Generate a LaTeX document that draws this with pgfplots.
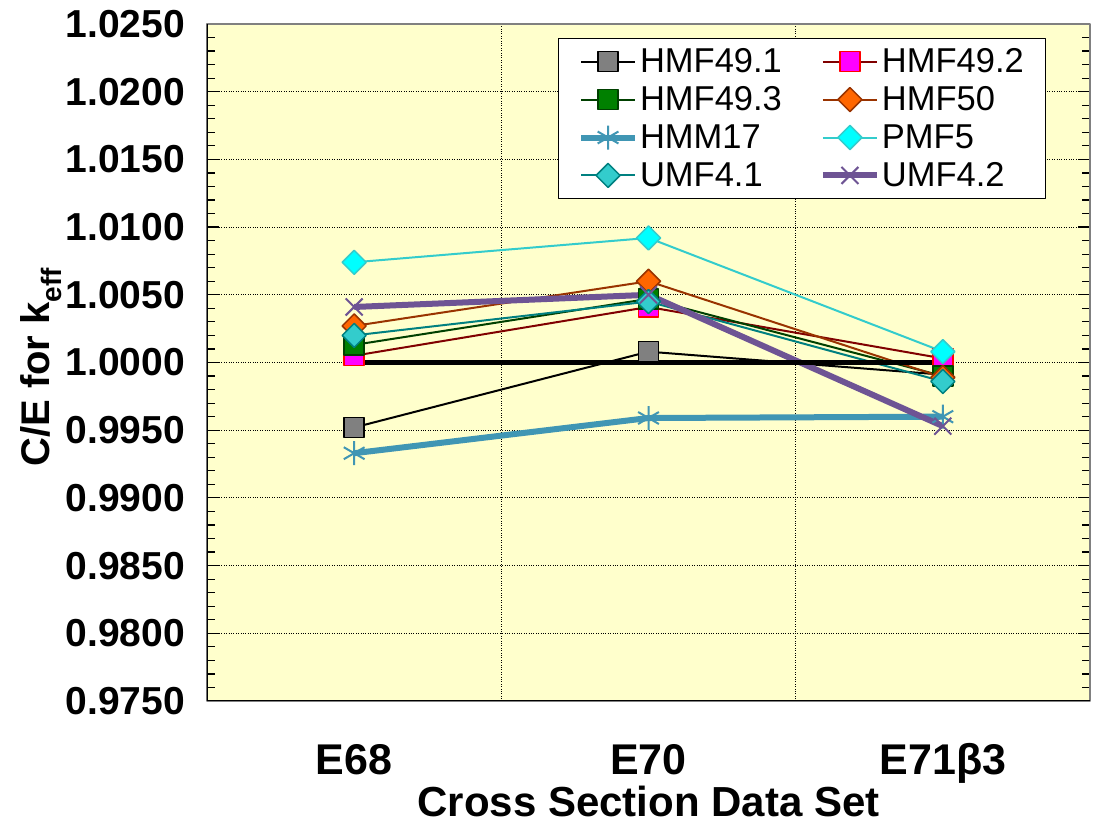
\documentclass[border=0pt]{standalone}
\usepackage{fontspec}
\setmainfont{Liberation Sans}
\usepackage{pgfplots}
\pgfplotsset{compat=1.18}
\definecolor{bgyellow}{RGB}{255,255,204}
\definecolor{dkred}{RGB}{128,0,0}
\definecolor{pureRed}{RGB}{255,0,0}
\definecolor{pureMagenta}{RGB}{255,0,255}
\definecolor{pureCyan}{RGB}{0,255,255}
\definecolor{midgray}{RGB}{128,128,128}
\definecolor{dkgreen}{RGB}{0,64,0}
\definecolor{mgreen}{RGB}{0,128,0}
\definecolor{brown50}{RGB}{153,51,0}
\definecolor{orange50}{RGB}{255,102,0}
\definecolor{hmmblue}{RGB}{64,150,180}
\definecolor{pmfline}{RGB}{51,204,204}
\definecolor{umfteal}{RGB}{0,128,128}
\definecolor{umffill}{RGB}{51,204,204}
\definecolor{umfpurple}{RGB}{110,84,148}
\begin{document}
\begin{tikzpicture}
\path[use as bounding box] (-207pt,-123pt) rectangle (888pt,701pt);
\begin{axis}[
  at={(0pt,0pt)}, anchor=south west,
  scale only axis, width=883pt, height=677pt,
  xmin=-0.5, xmax=2.5, ymin=0.975, ymax=1.025,
  axis background/.style={fill=bgyellow},
  axis line style={draw=midgray, line width=1.5pt},
  xtick={0,1,2}, xticklabels={E68,E70,E71β3},
  minor xtick={0.5,1.5},
  xtick style={draw=none},
  ytick={0.975,0.98,0.985,0.99,0.995,1.0,1.005,1.01,1.015,1.02,1.025},
  minor y tick num=4,
  tick align=inside,
  major tick length=12pt, minor tick length=8pt,
  ytick style={black, line width=1.2pt},
  ymajorgrids=true, xminorgrids=true,
  major grid style={black, dotted, line width=1pt},
  minor grid style={black, dotted, line width=1pt},
  yticklabel style={font=\fontsize{39}{39}\selectfont\bfseries, anchor=east, inner sep=0pt, xshift=-22pt,
    /pgf/number format/fixed, /pgf/number format/fixed zerofill,
    /pgf/number format/precision=4, /pgf/number format/assume math mode=true},
  xticklabel style={font=\fontsize{43}{43}\selectfont\bfseries, anchor=base, inner sep=0pt, yshift=-74pt},
  legend columns=2,
  legend cell align=left,
  legend image code/.code={\draw[mark repeat=2,mark phase=2,#1] plot coordinates {(0pt,0pt) (27pt,0pt) (54pt,0pt)};},
  legend style={at={(0.397,0.979)}, anchor=north west, draw=black, line width=1pt, fill=white,
    font=\fontsize{34.5}{34.5}\selectfont, inner xsep=20pt, inner ysep=8pt,
    /tikz/every even column/.append style={column sep=36pt},
    row sep=8.5pt},
  line join=round,
]
\addplot[color=black, line width=2pt, mark=square*, mark size=10pt,
  mark options={fill=midgray, draw=black, line width=1.5pt}]
  coordinates {(0,0.9952) (1,1.0008) (2,0.9991)};
\addlegendentry{HMF49.1}
\addplot[color=dkred, line width=2pt, mark=square*, mark size=10pt,
  mark options={fill=pureMagenta, draw=pureRed, line width=1.5pt}]
  coordinates {(0,1.0005) (1,1.0041) (2,1.0003)};
\addlegendentry{HMF49.2}
\addplot[color=dkgreen, line width=2pt, mark=square*, mark size=10pt,
  mark options={fill=mgreen, draw=dkgreen, line width=1.5pt}]
  coordinates {(0,1.0013) (1,1.0047) (2,0.9990)};
\addlegendentry{HMF49.3}
\addplot[color=brown50, line width=2pt, mark=square*, mark size=8.5pt,
  mark options={fill=orange50, draw=brown50, line width=1.5pt, rotate=45}]
  coordinates {(0,1.0027) (1,1.0060) (2,0.9989)};
\addlegendentry{HMF50}
\addplot[color=hmmblue, line width=6pt, mark=asterisk, mark size=12pt,
  mark options={draw=hmmblue, line width=2pt}]
  coordinates {(0,0.9933) (1,0.9959) (2,0.9960)};
\addlegendentry{HMM17}
\addplot[color=pmfline, line width=2pt, mark=square*, mark size=8.5pt,
  mark options={fill=pureCyan, draw=pmfline, line width=1.5pt, rotate=45}]
  coordinates {(0,1.0074) (1,1.0092) (2,1.0008)};
\addlegendentry{PMF5}
\addplot[color=umfteal, line width=2pt, mark=square*, mark size=8.5pt,
  mark options={fill=umffill, draw=umfteal, line width=1.5pt, rotate=45}]
  coordinates {(0,1.0020) (1,1.0045) (2,0.9986)};
\addlegendentry{UMF4.1}
\addplot[color=umfpurple, line width=6pt, mark=x, mark size=12pt,
  mark options={draw=umfpurple, line width=2pt}]
  coordinates {(0,1.0041) (1,1.0050) (2,0.9953)};
\addlegendentry{UMF4.2}
\addplot[forget plot, color=black, line width=5pt, no marks]
  coordinates {(0,1.0000) (2,1.0000)};
\draw[black, line width=2pt] (rel axis cs:0,1) -- (rel axis cs:0,0) -- (rel axis cs:1,0);
\end{axis}
\node[anchor=base, inner sep=0pt, font=\fontsize{42}{42}\selectfont\bfseries] at (441.5pt,-116pt) {Cross Section Data Set};
\node[anchor=base, inner sep=0pt, rotate=90, font=\fontsize{40}{40}\selectfont\bfseries] at (-157pt,334pt) {C/E for k\textsubscript{eff}};
\end{tikzpicture}
\end{document}
